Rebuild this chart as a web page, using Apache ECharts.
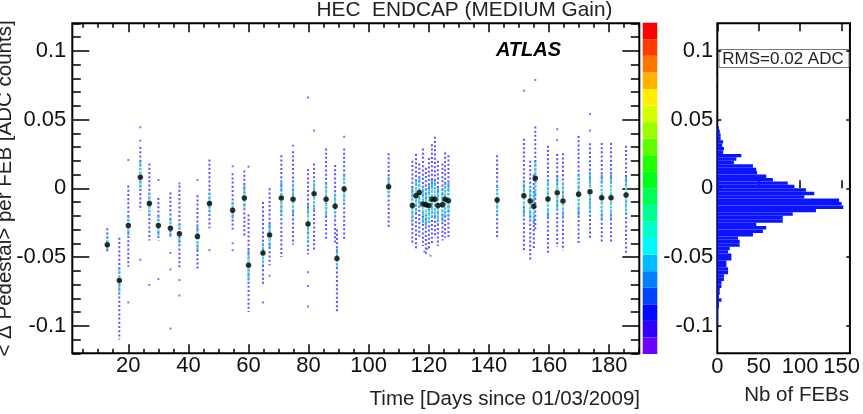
<!DOCTYPE html>
<html>
<head>
<meta charset="utf-8">
<script src="https://cdn.jsdelivr.net/npm/echarts@6/dist/echarts.min.js"></script>
<style>
html, body { margin: 0; padding: 0; background: #fff; }
#chart { width: 863px; height: 414px; }
</style>
</head>
<body>
<div id="chart"></div>
<script>
// columns of the 2D histogram: day, extent of the cells, dense core and mean
var colDay = [13.0, 17.0, 20.0, 24.0, 27.0, 30.0, 34.0, 37.0, 43.0, 47.0,
    54.7, 58.6, 60.0, 64.8, 67.0, 70.9, 74.8, 79.8, 81.8, 85.8,
    88.8, 89.4, 91.8, 106.6,
    114.5, 115.7, 116.8, 118.0, 119.0, 120.0, 121.0, 122.0, 123.0, 124.5, 125.4, 126.5,
    142.7, 151.6, 153.7, 154.9, 155.4, 159.6, 162.7, 164.6, 169.8, 173.6, 177.5, 180.6, 185.6];
var colMean = [-0.041, -0.067, -0.027, 0.008, -0.011, -0.027, -0.029, -0.033, -0.035, -0.011,
    -0.016, -0.007, -0.056, -0.047, -0.034, -0.007, -0.008, -0.026, -0.004, -0.008,
    -0.013, -0.051, -0.0005, 0.0012,
    -0.0125, -0.0055, -0.003, -0.0115, -0.012, -0.0125, -0.008, -0.008, -0.0125, -0.012, -0.008, -0.009,
    -0.0085, -0.0054, -0.0092, -0.013, 0.0073, -0.0078, -0.0032, -0.0092, -0.0044, -0.0025, -0.0068, -0.0068, -0.0049];
var colTop = [-0.029, -0.036, 0.002, 0.030, 0.018, -0.007, -0.003, 0.002, -0.005, 0.021,
    0.011, 0.013, -0.019, -0.010, 0.000, 0.024, 0.027, 0.014, 0.018, 0.029,
    0.017, -0.030, 0.029, 0.0255,
    0.020, 0.025, 0.018, 0.029, 0.015, 0.022, 0.032, 0.0375, 0.020, 0.018, 0.026, 0.024,
    0.024, 0.036, 0.020, 0.010, 0.045, 0.031, 0.025, 0.0255, 0.038, 0.0327, 0.033, 0.033, 0.031];
var colBottom = [-0.047, -0.110, -0.057, -0.016, -0.038, -0.038, -0.036, -0.058, -0.060, -0.029,
    -0.030, -0.036, -0.090, -0.070, -0.056, -0.050, -0.041, -0.048, -0.046, -0.038,
    -0.040, -0.091, -0.038, -0.029,
    -0.040, -0.044, -0.035, -0.042, -0.049, -0.044, -0.040, -0.036, -0.042, -0.038, -0.036, -0.036,
    -0.036, -0.046, -0.052, -0.044, -0.030, -0.0485, -0.0425, -0.045, -0.041, -0.0376, -0.039, -0.039, -0.047];
var coreTop = [-0.035, -0.058, -0.020, 0.020, -0.003, -0.020, -0.022, -0.026, -0.028, -0.003,
    -0.010, 0.002, -0.045, -0.040, -0.026, 0.004, 0.003, -0.012, 0.006, 0.004,
    -0.004, -0.044, 0.010, 0.008,
    0.000, 0.006, 0.008, 0.002, 0.000, 0.002, 0.006, 0.006, 0.000, 0.000, 0.004, 0.004,
    0.002, 0.006, 0.002, -0.002, 0.020, 0.006, 0.008, 0.004, 0.010, 0.012, 0.010, 0.010, 0.008];
var coreBottom = [-0.045, -0.076, -0.034, -0.002, -0.020, -0.034, -0.034, -0.040, -0.045, -0.018,
    -0.022, -0.014, -0.067, -0.056, -0.044, -0.020, -0.020, -0.040, -0.016, -0.020,
    -0.022, -0.058, -0.012, -0.006,
    -0.026, -0.018, -0.014, -0.026, -0.028, -0.026, -0.022, -0.022, -0.026, -0.024, -0.020, -0.022,
    -0.020, -0.020, -0.022, -0.026, -0.006, -0.022, -0.016, -0.022, -0.020, -0.018, -0.022, -0.022, -0.020];

// isolated cells away from the columns
var outDay = [20, 20, 24, 24, 24, 27, 30, 30, 34, 34, 34, 37, 37, 37, 43, 47,
    54.7, 54.7, 54.7, 60, 64.8, 67, 74.8, 79.8, 79.8, 79.8, 79.8, 81.8, 91.8,
    118.5, 119.5, 120.5, 151.6, 155.4, 162.7, 162.7, 173.6, 173.6];
var outVal = [0.0206, -0.083, 0.0444, 0.0346, -0.052, -0.0703, 0.006, -0.066, -0.047, -0.059, -0.102,
    0.0036, -0.0667, -0.078, 0.006, -0.045,
    0.016, -0.040, -0.045, 0.0157, -0.083, -0.0636, 0.031, 0.066, -0.061, -0.071, -0.086, 0.042, 0.0375,
    -0.046, -0.044, -0.049, 0.071, 0.0788, 0.043, 0.035, 0.054, 0.042];

// projection: bin low edges and number of FEBs
var binWidth = 0.0025;
var histLow = [0.0775, 0.0425, 0.04, 0.0375, 0.035, 0.0325, 0.03, 0.0275, 0.025, 0.0225,
    0.02, 0.0175, 0.015, 0.0125, 0.01, 0.0075, 0.005, 0.0025, 0,
    -0.0025, -0.005, -0.0075, -0.01, -0.0125, -0.015, -0.0175, -0.02, -0.0225, -0.025,
    -0.0275, -0.03, -0.0325, -0.035, -0.0375, -0.04, -0.0425, -0.045, -0.0475, -0.05,
    -0.0525, -0.055, -0.0575, -0.06, -0.0625, -0.065, -0.0675, -0.07, -0.0725, -0.075,
    -0.0775, -0.08, -0.0825, -0.085, -0.0875, -0.09, -0.0925, -0.095, -0.0975, -0.1];
var histCount = [1, 2, 3, 4, 4, 7, 6, 8, 7, 29,
    23, 20, 43, 47, 48, 59, 67, 85, 93,
    107, 117, 105, 147, 150, 152, 119, 91, 79, 79,
    47, 59, 55, 43, 25, 27, 27, 15, 13, 17,
    17, 11, 11, 13, 13, 8, 8, 5, 5, 3,
    3, 2, 5, 2, 2, 1, 1, 1, 1, 1];

// colour scale, bottom to top
var paletteColors = ['#6e00ff', '#3300ff', '#0008ff', '#0044ff', '#0080ff', '#00bbff', '#00f7ff',
    '#00ffcc', '#00ff91', '#00ff55', '#00ff1a', '#22ff00', '#5dff00', '#99ff00', '#d4ff00',
    '#ffee00', '#ffb300', '#ff7700', '#ff3b00', '#ff0000'];

var fontName = 'Liberation Sans';

function yLabel(v) {
    return v === 0 ? '0' : String(+v.toFixed(3));
}

function renderColumn(params, api) {
    var d = api.value(0);
    var a = api.coord([d, api.value(1)]);
    var b = api.coord([d, api.value(2)]);
    var c = api.coord([d, api.value(3)]);
    var e = api.coord([d, api.value(4)]);
    return {
        type: 'group',
        children: [{
            type: 'line',
            shape: { x1: a[0], y1: a[1], x2: b[0], y2: b[1] },
            style: { stroke: '#5a52ff', lineWidth: 2, lineDash: [2, 2.2] }
        }, {
            type: 'line',
            shape: { x1: c[0], y1: c[1], x2: e[0], y2: e[1] },
            style: {
                lineWidth: 2, lineDash: [2.5, 1],
                stroke: {
                    type: 'linear', x: 0, y: c[1], x2: 0, y2: e[1], global: true,
                    colorStops: [
                        { offset: 0, color: '#2aa8ff' },
                        { offset: 0.5, color: '#5cffb0' },
                        { offset: 1, color: '#2aa8ff' }
                    ]
                }
            }
        }]
    };
}

function renderHist(params, api) {
    var lo = api.value(0);
    var p0 = api.coord([0, lo + binWidth]);
    var p1 = api.coord([api.value(1), lo]);
    return {
        type: 'rect',
        shape: { x: p0[0], y: p0[1], width: p1[0] - p0[0], height: p1[1] - p0[1] },
        style: { fill: '#0a14ff' }
    };
}

function renderBar(params, api) {
    var i = api.value(0);
    var p0 = api.coord([0, i + 1]);
    var p1 = api.coord([1, i]);
    return {
        type: 'rect',
        shape: { x: p0[0], y: p0[1], width: p1[0] - p0[0], height: p1[1] - p0[1] },
        style: { fill: paletteColors[i] }
    };
}

var tickStyle = { color: '#000', width: 1.5 };
var labelStyle = { color: '#111', fontFamily: fontName, fontSize: 22 };

var chart = echarts.init(document.getElementById('chart'));
var option = {
    animation: false,
    grid: [
        { left: 72.3, top: 23.3, width: 567, height: 330, show: true, borderColor: '#000', borderWidth: 2, backgroundColor: 'transparent' },
        { left: 83.2, top: 23.3, width: 555.9, height: 330 },
        { left: 128.3, top: 23.3, width: 480.8, height: 330 },
        { left: 72.3, top: 50.8, width: 567, height: 275 },
        { left: 717.3, top: 23.3, width: 133, height: 330, show: true, borderColor: '#000', borderWidth: 2, backgroundColor: 'transparent' },
        { left: 717.3, top: 50.8, width: 133, height: 275 },
        { left: 642.7, top: 22.7, width: 14.6, height: 331.3 }
    ],
    xAxis: [
        { gridIndex: 0, type: 'value', min: 1.36, max: 190, show: false },
        { gridIndex: 1, type: 'value', position: 'bottom', min: 5, max: 190, interval: 5,
          axisLine: { show: false }, splitLine: { show: false }, axisLabel: { show: false },
          axisTick: { inside: true, length: 4.5, lineStyle: tickStyle } },
        { gridIndex: 1, type: 'value', position: 'top', min: 5, max: 190, interval: 5,
          axisLine: { show: false }, splitLine: { show: false }, axisLabel: { show: false },
          axisTick: { inside: true, length: 4.5, lineStyle: tickStyle } },
        { gridIndex: 2, type: 'value', position: 'bottom', min: 20, max: 180, interval: 20,
          axisLine: { show: false }, splitLine: { show: false },
          axisLabel: Object.assign({ margin: 2 }, labelStyle),
          axisTick: { inside: true, length: 9, lineStyle: tickStyle } },
        { gridIndex: 2, type: 'value', position: 'top', min: 20, max: 180, interval: 20,
          axisLine: { show: false }, splitLine: { show: false }, axisLabel: { show: false },
          axisTick: { inside: true, length: 9, lineStyle: tickStyle } },
        { gridIndex: 3, type: 'value', min: 0, max: 1, show: false },
        { gridIndex: 4, type: 'value', position: 'bottom', min: 0, max: 160, interval: 50,
          axisLine: { show: false }, splitLine: { show: false },
          axisLabel: Object.assign({ margin: 3, showMaxLabel: false }, labelStyle),
          axisTick: { inside: true, length: 8, lineStyle: tickStyle } },
        { gridIndex: 4, type: 'value', position: 'top', min: 0, max: 160, interval: 50,
          axisLine: { show: false }, splitLine: { show: false }, axisLabel: { show: false },
          axisTick: { inside: true, length: 8, lineStyle: tickStyle } },
        { gridIndex: 5, type: 'value', min: 0, max: 1, show: false },
        { gridIndex: 6, type: 'value', min: 0, max: 1, show: false }
    ],
    yAxis: [
        { gridIndex: 0, type: 'value', position: 'left', min: -0.12, max: 0.12, interval: 0.01,
          axisLine: { show: false }, splitLine: { show: false }, axisLabel: { show: false },
          axisTick: { inside: true, length: 8.5, lineStyle: tickStyle } },
        { gridIndex: 0, type: 'value', position: 'right', min: -0.12, max: 0.12, interval: 0.01,
          axisLine: { show: false }, splitLine: { show: false }, axisLabel: { show: false },
          axisTick: { inside: true, length: 8.5, lineStyle: tickStyle } },
        { gridIndex: 1, type: 'value', min: 0, max: 1, show: false },
        { gridIndex: 2, type: 'value', min: 0, max: 1, show: false },
        { gridIndex: 3, type: 'value', position: 'left', min: -0.1, max: 0.1, interval: 0.05,
          axisLine: { show: false }, splitLine: { show: false },
          axisLabel: Object.assign({ margin: 6, formatter: yLabel }, labelStyle),
          axisTick: { inside: true, length: 17, lineStyle: tickStyle } },
        { gridIndex: 3, type: 'value', position: 'right', min: -0.1, max: 0.1, interval: 0.05,
          axisLine: { show: false }, splitLine: { show: false }, axisLabel: { show: false },
          axisTick: { inside: true, length: 17, lineStyle: tickStyle } },
        { gridIndex: 4, type: 'value', min: -0.12, max: 0.12, show: false },
        { gridIndex: 5, type: 'value', position: 'left', min: -0.1, max: 0.1, interval: 0.05,
          axisLine: { show: false }, splitLine: { show: false },
          axisLabel: Object.assign({ margin: 4, formatter: yLabel }, labelStyle),
          axisTick: { inside: true, length: 4, lineStyle: tickStyle } },
        { gridIndex: 5, type: 'value', position: 'right', min: -0.1, max: 0.1, interval: 0.05,
          axisLine: { show: false }, splitLine: { show: false }, axisLabel: { show: false },
          axisTick: { inside: true, length: 4, lineStyle: tickStyle } },
        { gridIndex: 6, type: 'value', min: 0, max: 20, show: false }
    ],
    series: [{
        type: 'custom',
        xAxisIndex: 0, yAxisIndex: 0,
        renderItem: renderColumn,
        clip: true,
        data: colDay.map(function (d, i) { return [d, colTop[i], colBottom[i], coreTop[i], coreBottom[i]]; })
    }, {
        type: 'scatter',
        xAxisIndex: 0, yAxisIndex: 0,
        symbol: 'rect', symbolSize: [2, 2],
        itemStyle: { color: '#5a52ff' },
        data: outDay.map(function (d, i) { return [d, outVal[i]]; })
    }, {
        type: 'scatter',
        xAxisIndex: 0, yAxisIndex: 0,
        symbol: 'circle', symbolSize: 5.5,
        itemStyle: { color: '#000' },
        data: colDay.map(function (d, i) { return [d, colMean[i]]; })
    }, {
        type: 'custom',
        xAxisIndex: 6, yAxisIndex: 6,
        renderItem: renderHist,
        clip: true,
        data: histLow.map(function (lo, i) { return [lo, histCount[i]]; })
    }, {
        type: 'custom',
        xAxisIndex: 9, yAxisIndex: 9,
        renderItem: renderBar,
        data: paletteColors.map(function (c, i) { return [i]; })
    }],
    graphic: [{
        type: 'text', x: 464.5, y: 10,
        style: { text: 'HEC  ENDCAP (MEDIUM Gain)', fill: '#222', font: '20.8px "Liberation Sans"', textAlign: 'center', textVerticalAlign: 'middle' }
    }, {
        type: 'text', x: 528.5, y: 50,
        style: { text: 'ATLAS', fill: '#000', font: 'italic bold 20px "Liberation Sans"', textAlign: 'center', textVerticalAlign: 'middle' }
    }, {
        type: 'text', x: 640, y: 399,
        style: { text: 'Time [Days since 01/03/2009]', fill: '#222', font: '20.5px "Liberation Sans"', textAlign: 'right', textVerticalAlign: 'middle' }
    }, {
        type: 'text', x: 849, y: 395,
        style: { text: 'Nb of FEBs', fill: '#222', font: '20.5px "Liberation Sans"', textAlign: 'right', textVerticalAlign: 'middle' }
    }, {
        type: 'text', x: 5, y: 188.5, rotation: Math.PI / 2,
        style: { text: '< \u0394 Pedestal> per FEB [ADC counts]', fill: '#222', font: '20.5px "Liberation Sans"', textAlign: 'center', textVerticalAlign: 'middle' }
    }, {
        type: 'rect', shape: { x: 719, y: 49.5, width: 130, height: 18 },
        style: { fill: '#fff', stroke: '#777', lineWidth: 1 }
    }, {
        type: 'text', x: 783, y: 59,
        style: { text: 'RMS=0.02 ADC', fill: '#222', font: '17px "Liberation Sans"', textAlign: 'center', textVerticalAlign: 'middle' }
    }]
};
chart.setOption(option);
window.addEventListener('resize', function () {
    chart.resize();
});
</script>
</body>
</html>
